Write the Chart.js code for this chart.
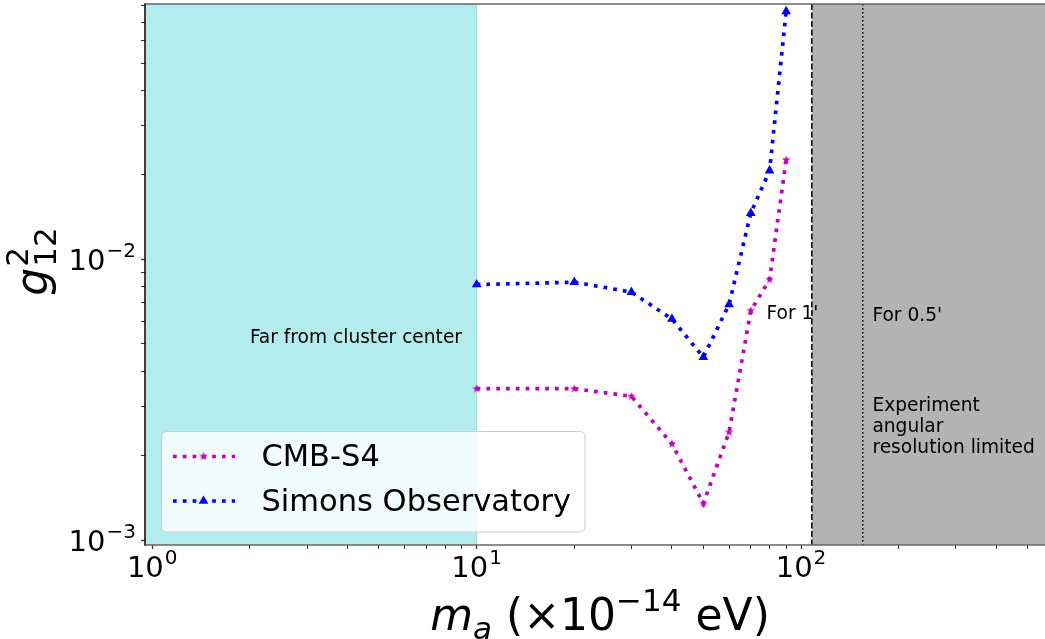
<!DOCTYPE html>
<html><head><meta charset="utf-8">
<script src="https://cdn.jsdelivr.net/npm/chart.js@4.4.1/dist/chart.umd.min.js"></script>
<style>html,body{margin:0;padding:0;background:#fff;overflow:hidden}canvas{display:block}</style>
</head><body>
<canvas id="c" width="1045" height="639"></canvas>
<script>
// ---- data ----
const masses = [10, 20, 30, 40, 50, 60, 70, 80, 90];
const cmbS4 = [0.00346, 0.00346, 0.00325, 0.00220, 0.00135, 0.00242, 0.00656, 0.00847, 0.0226];
const simons = [0.00813, 0.00829, 0.00764, 0.00613, 0.00448, 0.00691, 0.0146, 0.0207, 0.0764];
const seriesNames = ['CMB-S4', 'Simons Observatory'];
const xRange = [0.95, 565];
const yRange = [0.00096, 0.0812];
const xMajorTicks = [1, 10, 100];
const xMajorExp = ['0', '1', '2'];
const xMinorTicks = [2, 3, 4, 5, 6, 7, 8, 9, 20, 30, 40, 50, 60, 70, 80, 90, 200, 300, 400, 500];
const yMajorTicks = [0.001, 0.01];
const yMajorExp = ['\u22123', '\u22122'];
const yMinorTicks = [0.002, 0.003, 0.004, 0.005, 0.006, 0.007, 0.008, 0.009, 0.02, 0.03, 0.04, 0.05, 0.06, 0.07, 0.08];
const farRegionEnd = 10;
const res1arcmin = 108;
const res05arcmin = 155;
const annotations = [
  {text: 'Far from cluster center', x: 2.0, y: 0.00524},
  {text: "For 1'", x: 78.3, y: 0.00638},
  {text: "For 0.5'", x: 166, y: 0.00628},
  {text: 'Experiment', x: 166, y: 0.00300},
  {text: 'angular', x: 166, y: 0.00252},
  {text: 'resolution limited', x: 166, y: 0.00213}
];

const FONT = '"DejaVu Sans", "Liberation Sans", sans-serif';
const MAG = '#bf00bf', BLUE = '#0000ff';

function makeStar(color, R) {
  const s = Math.ceil(R * 2 + 2);
  const c = document.createElement('canvas');
  c.width = c.height = s;
  const g = c.getContext('2d');
  g.fillStyle = color;
  g.beginPath();
  for (let i = 0; i < 10; i++) {
    const r = i % 2 ? R * 0.4 : R;
    const a = -Math.PI / 2 + i * Math.PI / 5;
    g.lineTo(s / 2 + r * Math.cos(a), s / 2 + r * Math.sin(a));
  }
  g.closePath(); g.fill();
  return c;
}
const starImg = makeStar(MAG, 4.6);

function tickList(major, minor) {
  return major.concat(minor).sort((a, b) => a - b).map(v => ({value: v, major: major.includes(v)}));
}

function drawPow(ctx, exp, x, y, align) {
  ctx.font = '29px ' + FONT;
  const wb = ctx.measureText('10').width;
  ctx.font = '20px ' + FONT;
  const we = ctx.measureText(exp).width;
  const total = wb + 1 + we;
  const x0 = align === 'center' ? x - total / 2 : x - total;
  ctx.textAlign = 'left';
  ctx.textBaseline = 'alphabetic';
  ctx.font = '29px ' + FONT;
  ctx.fillText('10', x0, y);
  ctx.font = '20px ' + FONT;
  ctx.fillText(exp, x0 + wb + 1, y - 13);
}

const deco = {
  id: 'deco',
  beforeDatasetsDraw(chart) {
    const {ctx, chartArea: a, scales: {x}} = chart;
    ctx.save();
    const xf = x.getPixelForValue(farRegionEnd);
    ctx.fillStyle = '#b3ecec';
    ctx.fillRect(a.left, a.top, xf - a.left, a.bottom - a.top);
    ctx.strokeStyle = 'rgba(0,191,191,0.35)';
    ctx.lineWidth = 1;
    ctx.beginPath(); ctx.moveTo(xf, a.top); ctx.lineTo(xf, a.bottom); ctx.stroke();
    const x1 = x.getPixelForValue(res1arcmin);
    ctx.fillStyle = '#b3b3b3';
    ctx.fillRect(x1, a.top, a.right - x1, a.bottom - a.top);
    ctx.strokeStyle = '#000';
    ctx.lineWidth = 1.5;
    ctx.setLineDash([6, 2.5]);
    ctx.beginPath(); ctx.moveTo(x1, a.top); ctx.lineTo(x1, a.bottom); ctx.stroke();
    const x2 = x.getPixelForValue(res05arcmin);
    ctx.setLineDash([1.5, 2.5]);
    ctx.beginPath(); ctx.moveTo(x2, a.top); ctx.lineTo(x2, a.bottom); ctx.stroke();
    ctx.restore();
  },
  afterDatasetsDraw(chart) {
    const {ctx, chartArea: a, scales: {x, y}} = chart;
    ctx.save();
    // frame
    ctx.setLineDash([]);
    ctx.lineWidth = 1.6;
    ctx.strokeStyle = '#666';
    ctx.beginPath();
    ctx.moveTo(a.left, a.top); ctx.lineTo(a.right, a.top);
    ctx.moveTo(a.left, a.bottom); ctx.lineTo(a.right, a.bottom);
    ctx.stroke();
    ctx.strokeStyle = '#111';
    ctx.beginPath(); ctx.moveTo(a.left, a.top - 0.8); ctx.lineTo(a.left, a.bottom + 0.8); ctx.stroke();

    // annotations
    ctx.fillStyle = '#000';
    ctx.font = '18.6px ' + FONT;
    ctx.textAlign = 'left';
    ctx.textBaseline = 'middle';
    annotations.forEach(t => ctx.fillText(t.text, x.getPixelForValue(t.x), y.getPixelForValue(t.y)));

    // legend
    const lx = 161.5, ly = 431.5, lw = 423.5, lh = 100.5, r = 5;
    ctx.beginPath();
    ctx.roundRect(lx, ly, lw, lh, r);
    ctx.fillStyle = 'rgba(255,255,255,0.8)';
    ctx.fill();
    ctx.strokeStyle = '#cccccc';
    ctx.lineWidth = 1;
    ctx.stroke();
    const ds = chart.data.datasets;
    const rows = [456.5, 501];
    ds.forEach((d, i) => {
      const yy = rows[i];
      ctx.save();
      ctx.strokeStyle = d.borderColor;
      ctx.lineWidth = d.borderWidth;
      ctx.setLineDash(d.borderDash);
      ctx.beginPath(); ctx.moveTo(173, yy); ctx.lineTo(235, yy); ctx.stroke();
      ctx.restore();
      if (i === 0) {
        ctx.drawImage(starImg, 203.5 - starImg.width / 2, yy - starImg.height / 2);
      } else {
        ctx.fillStyle = d.borderColor;
        const R = d.pointRadius;
        ctx.beginPath();
        for (let k = 0; k < 3; k++) {
          const ang = k * 2 * Math.PI / 3;
          ctx.lineTo(203.5 + Math.sin(ang) * R, yy - Math.cos(ang) * R);
        }
        ctx.closePath(); ctx.fill();
      }
      ctx.fillStyle = '#000';
      ctx.font = '30.5px ' + FONT;
      ctx.textAlign = 'left';
      ctx.textBaseline = 'middle';
      ctx.fillText(d.label, 261.5, yy + 2);
    });

    // tick labels
    ctx.fillStyle = '#000';
    xMajorTicks.forEach((v, i) => drawPow(ctx, xMajorExp[i], x.getPixelForValue(v), 577, 'center'));
    yMajorTicks.forEach((v, i) => drawPow(ctx, yMajorExp[i], a.left - 9, y.getPixelForValue(v) + 11, 'right'));

    // x title: m_a (×10^{−14} eV)
    const F = 44, S = 31;
    const parts = [
      {t: 'm', f: 'italic ' + F + 'px ' + FONT, dy: 0},
      {t: 'a', f: 'italic ' + S + 'px ' + FONT, dy: 9},
      {t: ' (\u00d710', f: F + 'px ' + FONT, dy: 0},
      {t: '\u221214', f: S + 'px ' + FONT, dy: -19},
      {t: ' eV)', f: F + 'px ' + FONT, dy: 0}
    ];
    let tot = 0;
    parts.forEach(p => { ctx.font = p.f; p.w = ctx.measureText(p.t).width; tot += p.w; });
    let cx = 600 - tot / 2;
    ctx.textAlign = 'left'; ctx.textBaseline = 'alphabetic';
    parts.forEach(p => { ctx.font = p.f; ctx.fillText(p.t, cx, 630 + p.dy); cx += p.w; });

    // y title: g^2_{12}
    ctx.save();
    ctx.translate(47, 262);
    ctx.rotate(-Math.PI / 2);
    ctx.font = 'italic ' + F + 'px ' + FONT;
    const wg = ctx.measureText('g').width;
    ctx.font = S + 'px ' + FONT;
    const w12 = ctx.measureText('12').width;
    const totY = wg + w12;
    const sx = -totY / 2;
    ctx.font = 'italic ' + F + 'px ' + FONT;
    ctx.fillText('g', sx, 0);
    ctx.font = S + 'px ' + FONT;
    ctx.fillText('2', sx + wg + 1, -19);
    ctx.fillText('12', sx + wg + 1, 9);
    ctx.restore();

    ctx.restore();
  }
};

new Chart(document.getElementById('c'), {
  type: 'line',
  data: {
    datasets: [
      {
        label: seriesNames[0],
        data: masses.map((m, i) => ({x: m, y: cmbS4[i]})),
        borderColor: MAG, backgroundColor: MAG,
        borderWidth: 3.7, borderDash: [3.7, 6.1], borderCapStyle: 'butt',
        pointStyle: starImg, pointRadius: 5, pointHoverRadius: 5,
        tension: 0, fill: false
      },
      {
        label: seriesNames[1],
        data: masses.map((m, i) => ({x: m, y: simons[i]})),
        borderColor: BLUE, backgroundColor: BLUE,
        borderWidth: 3.7, borderDash: [3.7, 6.1], borderCapStyle: 'butt',
        pointStyle: 'triangle', pointRadius: 5.6, pointBorderWidth: 0,
        pointBackgroundColor: BLUE, pointHoverRadius: 5.6,
        tension: 0, fill: false
      }
    ]
  },
  options: {
    responsive: false,
    animation: false,
    devicePixelRatio: 1,
    layout: {autoPadding: false, padding: {top: 4, right: 0, left: 0, bottom: 0}},
    plugins: {legend: {display: false}, tooltip: {enabled: false}, title: {display: false}},
    scales: {
      x: {
        type: 'logarithmic', min: xRange[0], max: xRange[1],
        afterBuildTicks: s => { s.ticks = tickList(xMajorTicks, xMinorTicks); },
        afterFit: s => { s.height = 94; },
        ticks: {display: false},
        grid: {display: true, drawOnChartArea: false, drawTicks: true, tickLength: 4,
               tickColor: '#333', tickWidth: c => (c.tick && c.tick.major ? 1.3 : 1)},
        border: {display: false}
      },
      y: {
        type: 'logarithmic', min: yRange[0], max: yRange[1],
        afterBuildTicks: s => { s.ticks = tickList(yMajorTicks, yMinorTicks); },
        afterFit: s => { s.width = 145; },
        ticks: {display: false},
        grid: {display: true, drawOnChartArea: false, drawTicks: true, tickLength: 4,
               tickColor: '#333', tickWidth: c => (c.tick && c.tick.major ? 1.3 : 1)},
        border: {display: false}
      }
    }
  },
  plugins: [deco]
});
</script>
</body></html>
